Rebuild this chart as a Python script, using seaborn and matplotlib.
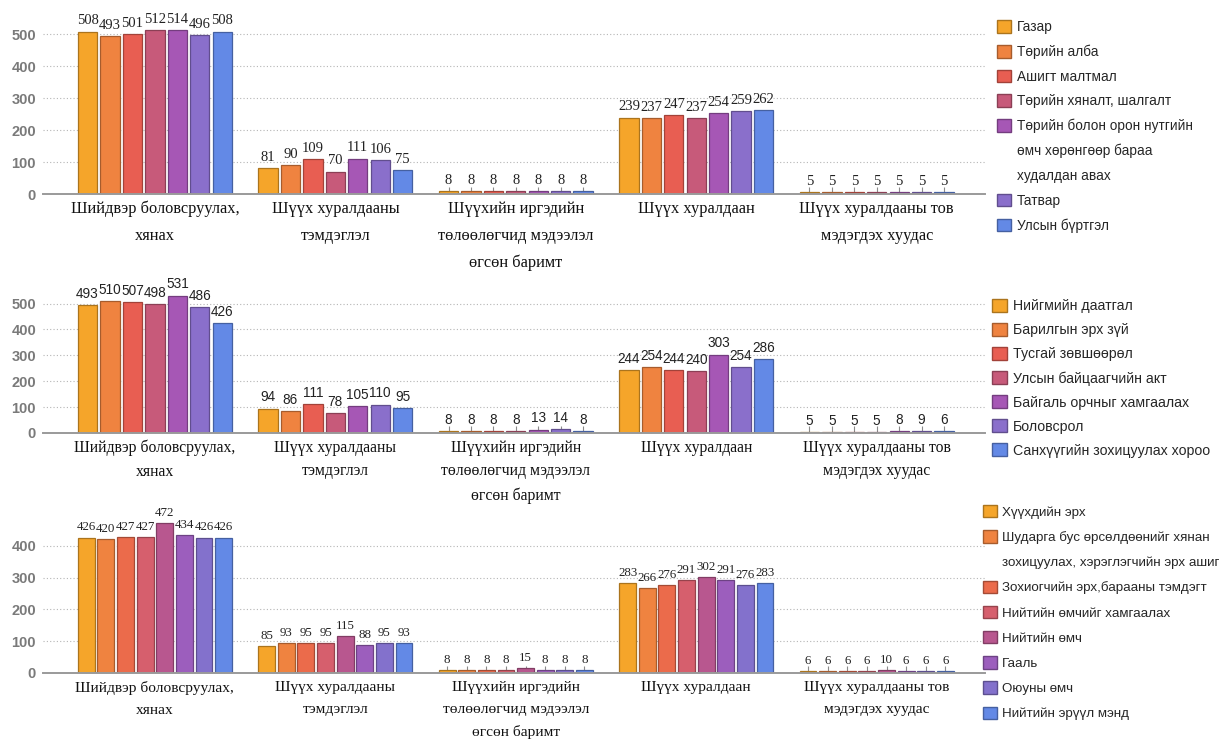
import numpy as np
import pandas as pd
import seaborn as sns
import matplotlib.pyplot as plt
from matplotlib.patches import Patch
from matplotlib.colors import to_rgb

sns.set_theme(style="white")
plt.rcParams['font.family'] = ['Liberation Sans', 'DejaVu Sans']
SERIF = ['Liberation Serif', 'DejaVu Serif']
SANS = ['Liberation Sans', 'DejaVu Sans']

groups = ["Шийдвэр боловсруулах,\nхянах",
          "Шүүх хуралдааны\nтэмдэглэл",
          "Шүүхийн иргэдийн\nтөлөөлөгчид мэдээлэл\nөгсөн баримт",
          "Шүүх хуралдаан",
          "Шүүх хуралдааны тов\nмэдэгдэх хуудас"]

# panel 1
p1_series = ["Газар", "Төрийн алба", "Ашигт малтмал", "Төрийн хяналт, шалгалт",
             "Төрийн болон орон нутгийн өмч хөрөнгөөр бараа худалдан авах",
             "Татвар", "Улсын бүртгэл"]
p1_legend = ["Газар", "Төрийн алба", "Ашигт малтмал", "Төрийн хяналт, шалгалт",
             ["Төрийн болон орон нутгийн", "өмч хөрөнгөөр бараа", "худалдан авах"],
             "Татвар", "Улсын бүртгэл"]
p1_values = [[508, 493, 501, 512, 514, 496, 508],
             [81, 90, 109, 70, 111, 106, 75],
             [8, 8, 8, 8, 8, 8, 8],
             [239, 237, 247, 237, 254, 259, 262],
             [5, 5, 5, 5, 5, 5, 5]]

# panel 2
p2_series = ["Нийгмийн даатгал", "Барилгын эрх зүй", "Тусгай зөвшөөрөл",
             "Улсын байцаагчийн акт", "Байгаль орчныг хамгаалах", "Боловсрол",
             "Санхүүгийн зохицуулах хороо"]
p2_legend = p2_series
p2_values = [[493, 510, 507, 498, 531, 486, 426],
             [94, 86, 111, 78, 105, 110, 95],
             [8, 8, 8, 8, 13, 14, 8],
             [244, 254, 244, 240, 303, 254, 286],
             [5, 5, 5, 5, 8, 9, 6]]

# panel 3
p3_series = ["Хүүхдийн эрх",
             "Шударга бус өрсөлдөөнийг хянан зохицуулах, хэрэглэгчийн эрх ашиг",
             "Зохиогчийн эрх,барааны тэмдэгт", "Нийтийн өмчийг хамгаалах",
             "Нийтийн өмч", "Гааль", "Оюуны өмч", "Нийтийн эрүүл мэнд"]
p3_legend = ["Хүүхдийн эрх",
             ["Шударга бус өрсөлдөөнийг хянан", "зохицуулах, хэрэглэгчийн эрх ашиг"],
             "Зохиогчийн эрх,барааны тэмдэгт", "Нийтийн өмчийг хамгаалах",
             "Нийтийн өмч", "Гааль", "Оюуны өмч", "Нийтийн эрүүл мэнд"]
p3_values = [[426, 420, 427, 427, 472, 434, 426, 426],
             [85, 93, 95, 95, 115, 88, 95, 93],
             [8, 8, 8, 8, 15, 8, 8, 8],
             [283, 266, 276, 291, 302, 291, 276, 283],
             [6, 6, 6, 6, 10, 6, 6, 6]]

colors7 = ["#F5A52A", "#EF8340", "#E85E52", "#C75A7A", "#A657B5", "#8A6FCB", "#6389E6"]
colors8 = ["#F5A52A", "#EF8340", "#EB6B4B", "#D65F6D", "#B8578F", "#9C5EBD", "#8371CC", "#6389E6"]

W, H = 1221, 740
fig = plt.figure(figsize=(W / 100, H / 100), dpi=100)


def darker(c, f=0.7):
    r, g, b = to_rgb(c)[:3]
    return (r * f, g * f, b * f)


def panel(rect, series, legend_labels, values, colors, ymax, yticks,
          label_family, label_size, cat_size, cat_ls, cat_off, legend_pos,
          legend_size, legend_sp):
    left, top, right, bottom = rect
    ax = fig.add_axes([left / W, 1 - bottom / H, (right - left) / W, (bottom - top) / H])
    rows = []
    for g, vals in zip(groups, values):
        for s, v in zip(series, vals):
            rows.append({"group": g, "series": s, "value": v})
    df = pd.DataFrame(rows)
    sns.barplot(data=df, x="group", y="value", hue="series", order=groups,
                hue_order=series, palette=colors, saturation=1, width=0.87,
                gap=0.14, errorbar=None, legend=False, ax=ax, linewidth=0.9)
    for p in ax.patches:
        p.set_edgecolor(darker(p.get_facecolor()))
    for c in ax.containers:
        ax.bar_label(c, fmt="%d", padding=3, fontsize=label_size,
                     family=label_family, color="#222222")
    centers = [p.get_x() + p.get_width() / 2 for p in ax.patches]

    ax.set_xlim(-0.62, 4.6)
    ax.set_ylim(0, ymax)
    ax.set_yticks(yticks)
    ax.set_yticklabels([str(t) for t in yticks], color="#7a7a7a",
                       fontweight="bold", fontsize=10.5)
    for t in yticks[1:]:
        ax.axhline(t, color="#b5b5b5", linestyle=(0, (1, 2)), linewidth=0.8, zorder=0)
    ax.set_xticks([0.5, 1.5, 2.5, 3.5])
    ax.set_xticklabels([])
    ax.set_xticks(centers, minor=True)
    ax.tick_params(axis="x", which="major", direction="out", length=4,
                   color="#999999", width=1)
    ax.tick_params(axis="x", which="minor", direction="in", length=5,
                   color="#8a8a8a", width=0.8, bottom=True)
    ax.tick_params(axis="y", length=0, pad=5)
    ax.set_xlabel("")
    ax.set_ylabel("")
    for s in ["left", "top", "right"]:
        ax.spines[s].set_visible(False)
    ax.spines["bottom"].set_color("#9a9a9a")
    ax.spines["bottom"].set_linewidth(1.4)

    for i, g in enumerate(groups):
        ax.annotate(g, xy=(i, 0), xycoords=("data", "axes fraction"),
                    xytext=(0, cat_off), textcoords="offset points", ha="center",
                    va="top", fontsize=cat_size, family=SERIF, linespacing=cat_ls,
                    color="#111111", annotation_clip=False)

    handles, labels = [], []
    for lab, col in zip(legend_labels, colors):
        if isinstance(lab, list):
            handles.append(Patch(facecolor=col, edgecolor=darker(col)))
            labels.append(lab[0])
            for extra in lab[1:]:
                handles.append(Patch(facecolor="none", edgecolor="none"))
                labels.append(extra)
        else:
            handles.append(Patch(facecolor=col, edgecolor=darker(col)))
            labels.append(lab)
    lx, ly = legend_pos
    fig.legend(handles, labels, loc="upper left",
               bbox_to_anchor=(lx / W, 1 - ly / H), bbox_transform=fig.transFigure,
               frameon=False, fontsize=legend_size, handlelength=1.05,
               handleheight=1.05, handletextpad=0.4, labelspacing=legend_sp,
               borderpad=0, borderaxespad=0)
    return ax


panel((43, 15, 985, 194), p1_series, p1_legend, p1_values, colors7, 560,
      [0, 100, 200, 300, 400, 500], SERIF, 10.5, 11.8, 1.9, -5,
      (997, 20), 9.8, 0.78)
panel((43, 288, 985, 433), p2_series, p2_legend, p2_values, colors7, 560,
      [0, 100, 200, 300, 400, 500], SANS, 9.8, 11.3, 1.62, -5,
      (992, 299), 10.2, 0.68)
panel((43, 514, 985, 673), p3_series, p3_legend, p3_values, colors8, 500,
      [0, 100, 200, 300, 400], SERIF, 9.3, 11.1, 1.85, -6,
      (983, 505), 9.6, 0.86)

fig.savefig("out.png", dpi=100)
